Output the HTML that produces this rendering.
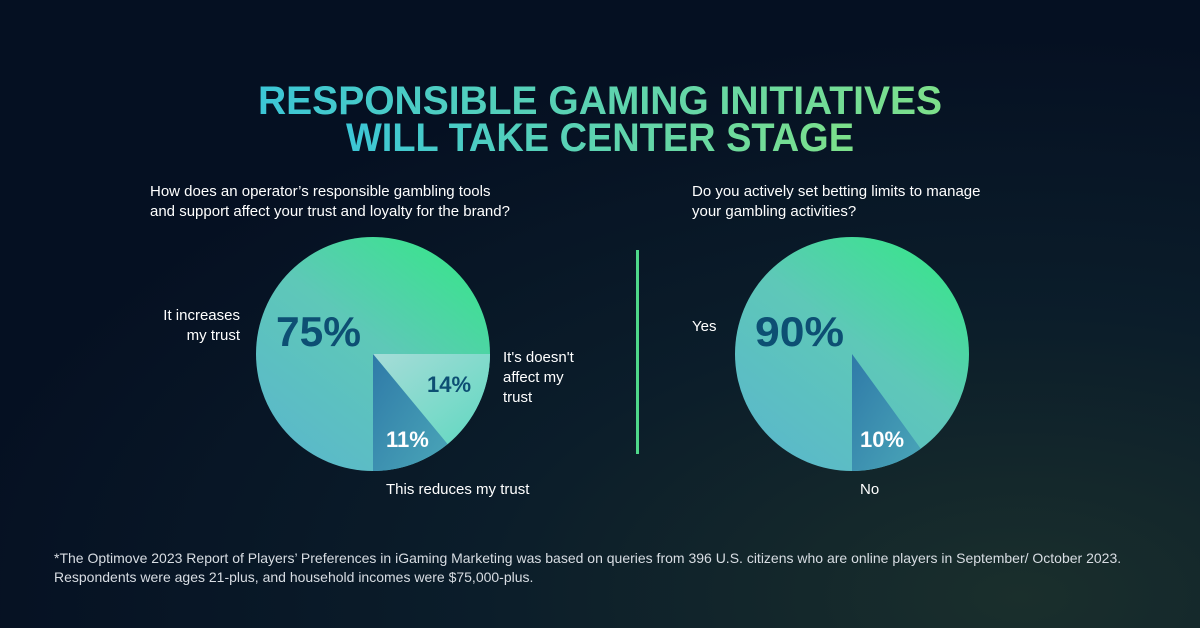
<!DOCTYPE html>
<html><head><meta charset="utf-8"><style>
html,body{margin:0;padding:0;width:1200px;height:628px;overflow:hidden;background:#071424}
</style></head><body>
<svg width="1200" height="628" viewBox="0 0 1200 628" xmlns="http://www.w3.org/2000/svg" font-family="Liberation Sans, sans-serif">
<defs>
<radialGradient id="bg" cx="0.85" cy="0.95" r="0.9">
<stop offset="0" stop-color="#1a2f2c"/><stop offset="0.5" stop-color="#0b1d2a"/><stop offset="1" stop-color="#051022"/>
</radialGradient>
<linearGradient id="tg" x1="0" y1="0" x2="1" y2="0">
<stop offset="0" stop-color="#3cc6d6"/><stop offset="1" stop-color="#7de08a"/>
</linearGradient>
<linearGradient id="pg" x1="0.2" y1="0.9" x2="0.8" y2="0.1">
<stop offset="0" stop-color="#5bbac8"/><stop offset="0.55" stop-color="#5ec8b8"/><stop offset="1" stop-color="#3fe093"/>
</linearGradient>
<linearGradient id="lg" x1="0" y1="0" x2="1" y2="1">
<stop offset="0" stop-color="#a6dcd8"/><stop offset="1" stop-color="#5fd8c0"/>
</linearGradient>
<linearGradient id="dg" x1="0" y1="0" x2="1" y2="1">
<stop offset="0" stop-color="#2f7aa8"/><stop offset="1" stop-color="#4aa6b8"/>
</linearGradient>
</defs>
<rect width="1200" height="628" fill="url(#bg)"/>
<text x="600" y="114" text-anchor="middle" font-size="40" font-weight="bold" fill="url(#tg)" textLength="684" lengthAdjust="spacingAndGlyphs">RESPONSIBLE GAMING INITIATIVES</text>
<text x="600" y="151" text-anchor="middle" font-size="40" font-weight="bold" fill="url(#tg)" textLength="508" lengthAdjust="spacingAndGlyphs">WILL TAKE CENTER STAGE</text>
<g fill="#ffffff" font-size="15">
<text x="150" y="196">How does an operator’s responsible gambling tools</text>
<text x="150" y="216">and support affect your trust and loyalty for the brand?</text>
<text x="692" y="196">Do you actively set betting limits to manage</text>
<text x="692" y="216">your gambling activities?</text>
<text x="240" y="320" text-anchor="end">It increases</text>
<text x="240" y="340" text-anchor="end">my trust</text>
<text x="503" y="362">It's doesn't</text>
<text x="503" y="382">affect my</text>
<text x="503" y="402">trust</text>
<text x="386" y="494">This reduces my trust</text>
<text x="692" y="331">Yes</text>
<text x="860" y="494">No</text>
</g>
<rect x="636" y="250" width="3" height="204" fill="#4fd88a"/>
<circle cx="373" cy="354" r="117" fill="url(#pg)"/>
<path d="M373 354 L490 354 A117 117 0 0 1 447.6 444.1 Z" fill="url(#lg)"/>
<path d="M373 354 L447.6 444.1 A117 117 0 0 1 373 471 Z" fill="url(#dg)"/>
<text x="276" y="346" font-size="42" font-weight="bold" fill="#0d4f73" textLength="85" lengthAdjust="spacingAndGlyphs">75%</text>
<text x="427" y="392" font-size="22" font-weight="bold" fill="#0d4f73">14%</text>
<text x="386" y="447" font-size="22" font-weight="bold" fill="#ffffff">11%</text>
<circle cx="852" cy="354" r="117" fill="url(#pg)"/>
<path d="M852 354 L920.8 448.7 A117 117 0 0 1 852 471 Z" fill="url(#dg)"/>
<text x="755" y="346" font-size="42" font-weight="bold" fill="#0d4f73" textLength="89" lengthAdjust="spacingAndGlyphs">90%</text>
<text x="860" y="447" font-size="22" font-weight="bold" fill="#ffffff">10%</text>
<g fill="#d8dde3" font-size="14">
<text x="54" y="563">*The Optimove 2023 Report of Players’ Preferences in iGaming Marketing was based on queries from 396 U.S. citizens who are online players in September/ October 2023.</text>
<text x="54" y="582">Respondents were ages 21-plus, and household incomes were $75,000-plus.</text>
</g>
</svg>
</body></html>
